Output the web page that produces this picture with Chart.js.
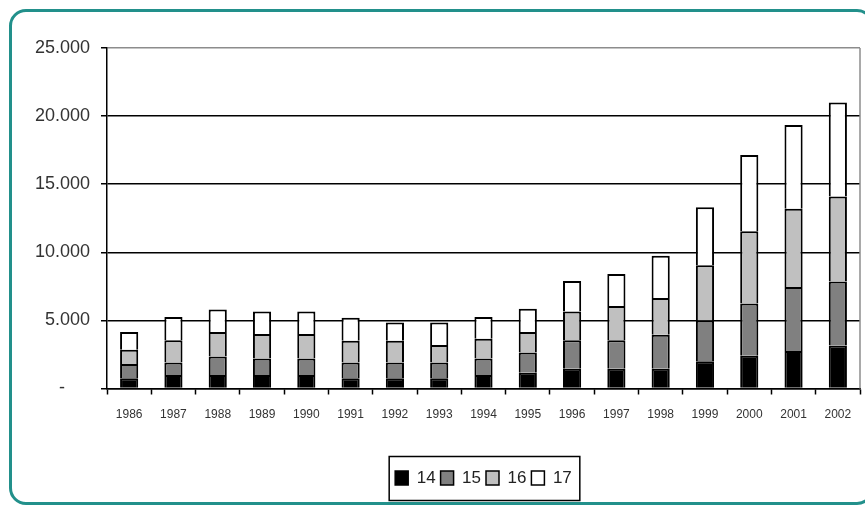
<!DOCTYPE html>
<html>
<head>
<meta charset="utf-8">
<style>
  html, body { margin: 0; padding: 0; background: #fff; overflow: hidden; }
  #wrap { position: relative; width: 865px; height: 506px; overflow: hidden; }
  #frame {
    position: absolute; left: 8.5px; top: 8.5px; width: 865px; height: 496px;
    box-sizing: border-box; border: 3px solid #22908b; border-radius: 17px;
  }
  canvas { position: absolute; left: 0; top: 0; }
</style>
<script src="https://cdn.jsdelivr.net/npm/chart.js@4/dist/chart.umd.min.js"></script>
</head>
<body>
<div id="wrap">
  <div id="frame"></div>
  <canvas id="chart" width="865" height="506"></canvas>
</div>
<script>
// Years on the category axis
const years = ['1986','1987','1988','1989','1990','1991','1992','1993','1994',
               '1995','1996','1997','1998','1999','2000','2001','2002'];

// Stacked series, one value per year
const series14 = [750, 1000, 1000, 1000, 1000, 750, 750, 750, 1000,
                  1150, 1450, 1450, 1450, 2000, 2400, 2750, 3150];
const series15 = [1050, 900, 1350, 1200, 1200, 1150, 1150, 1150, 1200,
                  1500, 2100, 2100, 2500, 3000, 3850, 4700, 4700];
const series16 = [1050, 1650, 1800, 1800, 1800, 1600, 1600, 1300, 1450,
                  1500, 2100, 2500, 2700, 4050, 5300, 5750, 6250];
const series17 = [1300, 1700, 1650, 1650, 1650, 1700, 1350, 1650, 1600,
                  1700, 2250, 2350, 3100, 4250, 5600, 6150, 6900];

// Value axis ticks and their labels
const yTickValues = [0, 5000, 10000, 15000, 20000, 25000];
const yTickLabels = ['-', '5.000', '10.000', '15.000', '20.000', '25.000'];

const seriesNames = ['14', '15', '16', '17'];
const seriesColors = ['#000000', '#808080', '#c0c0c0', '#ffffff'];
const seriesData = [series14, series15, series16, series17];

const FONT = '"Liberation Sans", Arial, sans-serif';

// Gray frame on the right of the plot area and a box around the legend
const framePlugin = {
  id: 'frames',
  afterDraw(chart) {
    const ctx = chart.ctx;
    const a = chart.chartArea;
    ctx.save();
    ctx.strokeStyle = '#8c8c8c';
    ctx.lineWidth = 1.5;
    ctx.beginPath();
    ctx.moveTo(a.right, a.top);
    ctx.lineTo(a.right, a.bottom);
    ctx.stroke();

    const boxes = chart.legend && chart.legend.legendHitBoxes;
    if (boxes && boxes.length) {
      let l = Infinity, r = -Infinity, t = Infinity, b = -Infinity;
      boxes.forEach(h => {
        l = Math.min(l, h.left); r = Math.max(r, h.left + h.width);
        t = Math.min(t, h.top); b = Math.max(b, h.top + h.height);
      });
      ctx.strokeStyle = '#000';
      ctx.lineWidth = 1.5;
      ctx.strokeRect(l - 6, t - 13, (r + 8) - (l - 6), (b + 14) - (t - 13));
    }
    ctx.restore();
  }
};

new Chart(document.getElementById('chart'), {
  type: 'bar',
  data: {
    labels: years,
    datasets: seriesData.map((d, i) => ({
      label: seriesNames[i],
      data: d,
      backgroundColor: seriesColors[i],
      borderColor: '#000',
      borderWidth: { top: 2, left: 2, right: 2, bottom: 0 },
      borderSkipped: false,
      inflateAmount: 0,
      categoryPercentage: 1,
      barPercentage: 0.41
    }))
  },
  options: {
    responsive: false,
    animation: false,
    layout: { padding: { top: 48, left: 0, right: 5, bottom: 9.5 } },
    plugins: {
      tooltip: { enabled: false },
      legend: {
        position: 'bottom',
        fullSize: false,
        labels: {
          font: { family: FONT, size: 17 },
          color: '#222',
          boxWidth: 13,
          boxHeight: 14,
          padding: 5,
          generateLabels(chart) {
            const items = Chart.defaults.plugins.legend.labels.generateLabels(chart);
            items.forEach(it => { it.lineWidth = 1.5; });
            return items;
          }
        }
      }
    },
    scales: {
      x: {
        stacked: true,
        afterFit(scale) { scale.height = 76; },
        grid: {
          drawOnChartArea: false,
          drawTicks: true,
          tickLength: 6,
          tickColor: '#000',
          tickWidth: 1.5,
          offset: true
        },
        border: { color: '#000', width: 1.5 },
        ticks: {
          font: { family: FONT, size: 12 },
          color: '#333',
          padding: 13,
          maxRotation: 0,
          autoSkip: false
        }
      },
      y: {
        stacked: true,
        min: 0,
        max: 25000,
        afterFit(scale) { scale.width = 107; },
        afterBuildTicks(scale) {
          scale.ticks = yTickValues.map(v => ({ value: v }));
        },
        grid: {
          color: c => (c.tick && c.tick.value === 25000) ? '#8c8c8c' : '#000',
          lineWidth: 1.5,
          tickLength: 6,
          tickColor: '#000',
          tickWidth: 1.5
        },
        border: { color: '#000', width: 1.5 },
        ticks: {
          font: { family: FONT, size: 18 },
          color: '#333',
          padding: 11,
          callback: (v) => {
            const s = yTickLabels[yTickValues.indexOf(v)];
            return v === 0 ? s + '     ' : s;
          }
        }
      }
    }
  },
  plugins: [framePlugin]
});
</script>
</body>
</html>
